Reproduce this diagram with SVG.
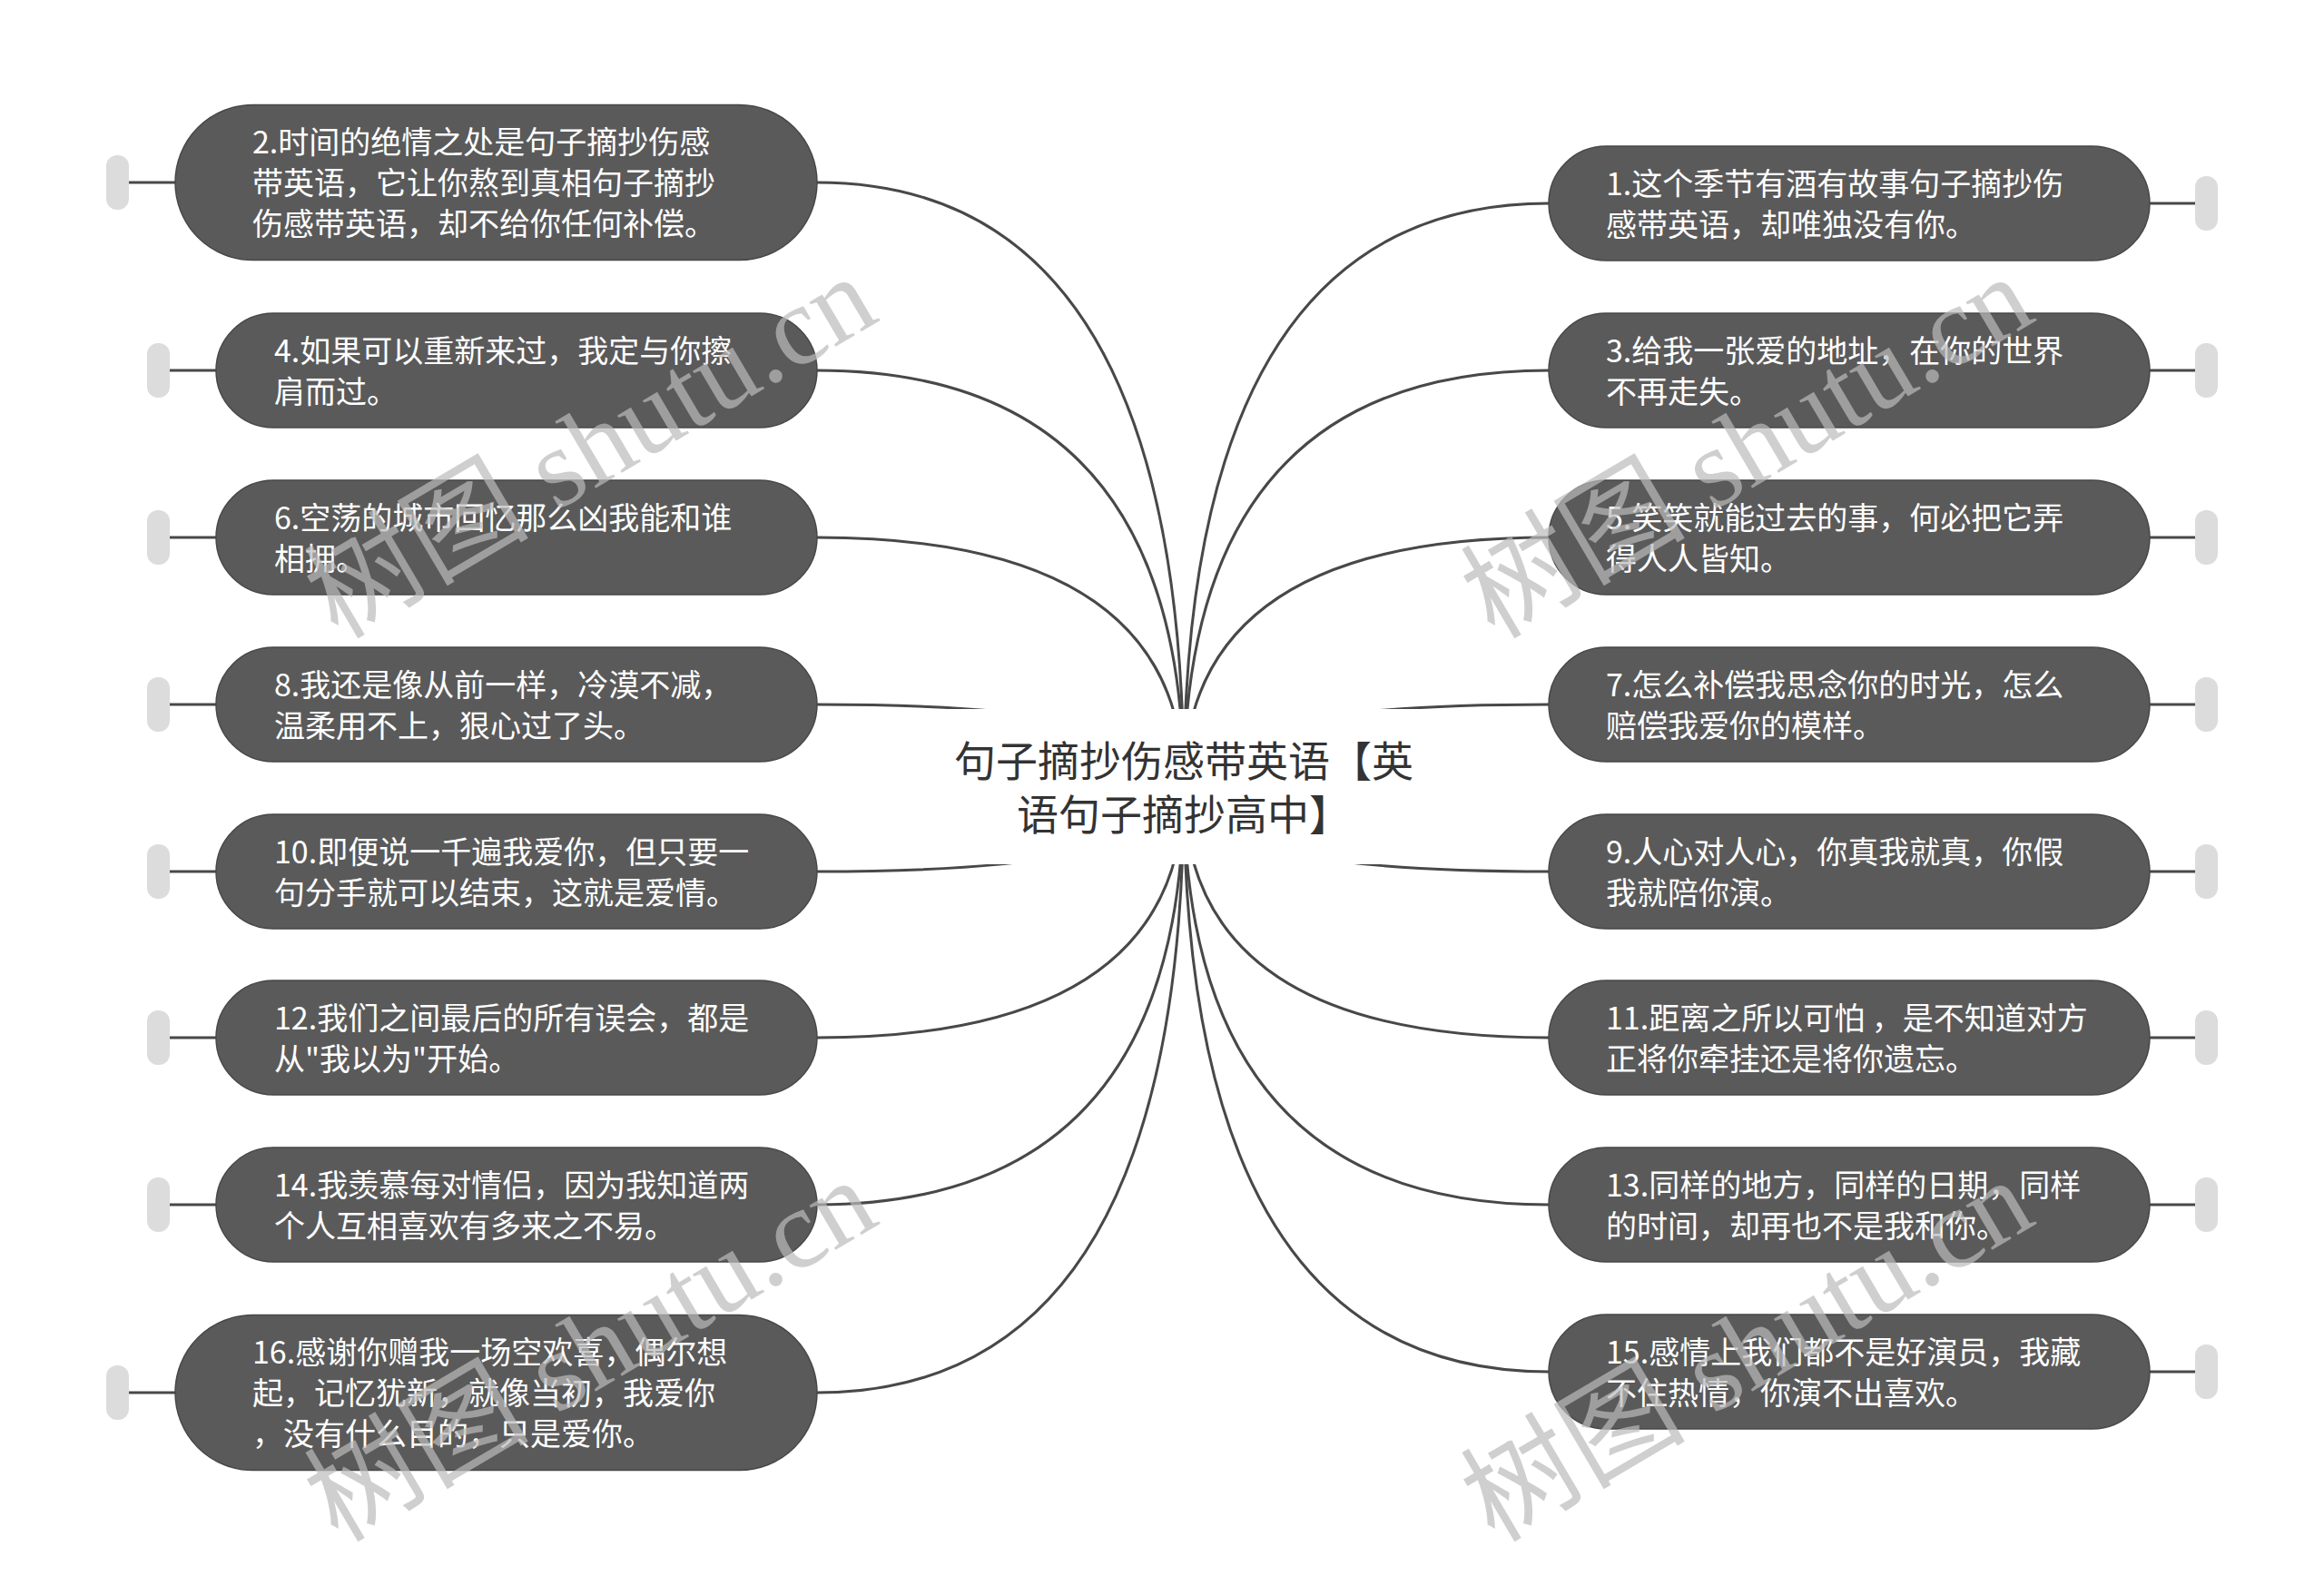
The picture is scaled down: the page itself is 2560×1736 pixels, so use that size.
<svg xmlns="http://www.w3.org/2000/svg" width="2560" height="1736" viewBox="0 0 2560 1736">
<style>
.bg{fill:#ffffff}
.node{fill:#5a5a5a;stroke:#474747;stroke-width:1.5}
.handle{fill:#dcdcdc}
.conn{fill:none;stroke:#484848;stroke-width:3}
.tx{font-family:"Noto Sans CJK SC","Noto Sans",sans-serif;font-size:34px;fill:#ffffff}
.ctx{font-family:"Noto Sans CJK SC","Noto Sans",sans-serif;font-size:46px;fill:#333333;text-anchor:middle}
.wm{font-family:"Liberation Serif","Noto Sans CJK SC",serif;font-size:124px;fill:#bbbbbb;opacity:0.7}
</style>
<rect class="bg" x="0" y="0" width="2560" height="1736"/>
<g id="connectors">
<path class="conn" d="M1304 867 Q1304 201 900 201"/>
<path class="conn" d="M1304 867 Q1304 408 900 408"/>
<path class="conn" d="M1304 867 Q1304 592 900 592"/>
<path class="conn" d="M1304 867 Q1304 776 900 776"/>
<path class="conn" d="M1304 867 Q1304 960 900 960"/>
<path class="conn" d="M1304 867 Q1304 1143 900 1143"/>
<path class="conn" d="M1304 867 Q1304 1327 900 1327"/>
<path class="conn" d="M1304 867 Q1304 1534 900 1534"/>
<path class="conn" d="M1304 867 Q1304 224 1706 224"/>
<path class="conn" d="M1304 867 Q1304 408 1706 408"/>
<path class="conn" d="M1304 867 Q1304 592 1706 592"/>
<path class="conn" d="M1304 867 Q1304 776 1706 776"/>
<path class="conn" d="M1304 867 Q1304 960 1706 960"/>
<path class="conn" d="M1304 867 Q1304 1143 1706 1143"/>
<path class="conn" d="M1304 867 Q1304 1327 1706 1327"/>
<path class="conn" d="M1304 867 Q1304 1511 1706 1511"/>
<path class="conn" d="M142 201 H193"/>
<path class="conn" d="M187 408 H238"/>
<path class="conn" d="M187 592 H238"/>
<path class="conn" d="M187 776 H238"/>
<path class="conn" d="M187 960 H238"/>
<path class="conn" d="M187 1143 H238"/>
<path class="conn" d="M187 1327 H238"/>
<path class="conn" d="M142 1534 H193"/>
<path class="conn" d="M2368 224 H2418"/>
<path class="conn" d="M2368 408 H2418"/>
<path class="conn" d="M2368 592 H2418"/>
<path class="conn" d="M2368 776 H2418"/>
<path class="conn" d="M2368 960 H2418"/>
<path class="conn" d="M2368 1143 H2418"/>
<path class="conn" d="M2368 1327 H2418"/>
<path class="conn" d="M2368 1511 H2418"/>
</g>
<g id="center">
<rect x="1000" y="781" width="608" height="171" fill="#ffffff"/>
<text class="ctx"><tspan x="1304" y="855">句子摘抄伤感带英语【英</tspan><tspan x="1304" y="914">语句子摘抄高中】</tspan></text>
</g>
<g id="n2">
<rect class="handle" x="117" y="171" width="25" height="60" rx="12"/>
<rect class="node" x="193" y="115.5" width="707" height="171" rx="85.5"/>
<text class="tx"><tspan x="278" y="169">2.时间的绝情之处是句子摘抄伤感</tspan><tspan x="278" y="214">带英语，它让你熬到真相句子摘抄</tspan><tspan x="278" y="259">伤感带英语，却不给你任何补偿。</tspan></text>
</g>
<g id="n4">
<rect class="handle" x="162" y="378" width="25" height="60" rx="12"/>
<rect class="node" x="238" y="345" width="662" height="126" rx="63"/>
<text class="tx"><tspan x="302" y="398.5">4.如果可以重新来过，我定与你擦</tspan><tspan x="302" y="443.5">肩而过。</tspan></text>
</g>
<g id="n6">
<rect class="handle" x="162" y="562" width="25" height="60" rx="12"/>
<rect class="node" x="238" y="529" width="662" height="126" rx="63"/>
<text class="tx"><tspan x="302" y="582.5">6.空荡的城市回忆那么凶我能和谁</tspan><tspan x="302" y="627.5">相拥。</tspan></text>
</g>
<g id="n8">
<rect class="handle" x="162" y="746" width="25" height="60" rx="12"/>
<rect class="node" x="238" y="713" width="662" height="126" rx="63"/>
<text class="tx"><tspan x="302" y="766.5">8.我还是像从前一样，冷漠不减，</tspan><tspan x="302" y="811.5">温柔用不上，狠心过了头。</tspan></text>
</g>
<g id="n10">
<rect class="handle" x="162" y="930" width="25" height="60" rx="12"/>
<rect class="node" x="238" y="897" width="662" height="126" rx="63"/>
<text class="tx"><tspan x="302" y="950.5">10.即便说一千遍我爱你，但只要一</tspan><tspan x="302" y="995.5">句分手就可以结束，这就是爱情。</tspan></text>
</g>
<g id="n12">
<rect class="handle" x="162" y="1113" width="25" height="60" rx="12"/>
<rect class="node" x="238" y="1080" width="662" height="126" rx="63"/>
<text class="tx"><tspan x="302" y="1133.5">12.我们之间最后的所有误会，都是</tspan><tspan x="302" y="1178.5">从"我以为"开始。</tspan></text>
</g>
<g id="n14">
<rect class="handle" x="162" y="1297" width="25" height="60" rx="12"/>
<rect class="node" x="238" y="1264" width="662" height="126" rx="63"/>
<text class="tx"><tspan x="302" y="1317.5">14.我羡慕每对情侣，因为我知道两</tspan><tspan x="302" y="1362.5">个人互相喜欢有多来之不易。</tspan></text>
</g>
<g id="n16">
<rect class="handle" x="117" y="1504" width="25" height="60" rx="12"/>
<rect class="node" x="193" y="1448.5" width="707" height="171" rx="85.5"/>
<text class="tx"><tspan x="278" y="1502">16.感谢你赠我一场空欢喜，偶尔想</tspan><tspan x="278" y="1547">起，记忆犹新，就像当初，我爱你</tspan><tspan x="278" y="1592">，没有什么目的，只是爱你。</tspan></text>
</g>
<g id="n1">
<rect class="node" x="1706" y="161" width="662" height="126" rx="63"/>
<rect class="handle" x="2418" y="194" width="25" height="60" rx="12"/>
<text class="tx"><tspan x="1769" y="214.5">1.这个季节有酒有故事句子摘抄伤</tspan><tspan x="1769" y="259.5">感带英语，却唯独没有你。</tspan></text>
</g>
<g id="n3">
<rect class="node" x="1706" y="345" width="662" height="126" rx="63"/>
<rect class="handle" x="2418" y="378" width="25" height="60" rx="12"/>
<text class="tx"><tspan x="1769" y="398.5">3.给我一张爱的地址，在你的世界</tspan><tspan x="1769" y="443.5">不再走失。</tspan></text>
</g>
<g id="n5">
<rect class="node" x="1706" y="529" width="662" height="126" rx="63"/>
<rect class="handle" x="2418" y="562" width="25" height="60" rx="12"/>
<text class="tx"><tspan x="1769" y="582.5">5.笑笑就能过去的事，何必把它弄</tspan><tspan x="1769" y="627.5">得人人皆知。</tspan></text>
</g>
<g id="n7">
<rect class="node" x="1706" y="713" width="662" height="126" rx="63"/>
<rect class="handle" x="2418" y="746" width="25" height="60" rx="12"/>
<text class="tx"><tspan x="1769" y="766.5">7.怎么补偿我思念你的时光，怎么</tspan><tspan x="1769" y="811.5">赔偿我爱你的模样。</tspan></text>
</g>
<g id="n9">
<rect class="node" x="1706" y="897" width="662" height="126" rx="63"/>
<rect class="handle" x="2418" y="930" width="25" height="60" rx="12"/>
<text class="tx"><tspan x="1769" y="950.5">9.人心对人心，你真我就真，你假</tspan><tspan x="1769" y="995.5">我就陪你演。</tspan></text>
</g>
<g id="n11">
<rect class="node" x="1706" y="1080" width="662" height="126" rx="63"/>
<rect class="handle" x="2418" y="1113" width="25" height="60" rx="12"/>
<text class="tx"><tspan x="1769" y="1133.5">11.距离之所以可怕 ，是不知道对方</tspan><tspan x="1769" y="1178.5">正将你牵挂还是将你遗忘。</tspan></text>
</g>
<g id="n13">
<rect class="node" x="1706" y="1264" width="662" height="126" rx="63"/>
<rect class="handle" x="2418" y="1297" width="25" height="60" rx="12"/>
<text class="tx"><tspan x="1769" y="1317.5">13.同样的地方，同样的日期，同样</tspan><tspan x="1769" y="1362.5">的时间，却再也不是我和你。</tspan></text>
</g>
<g id="n15">
<rect class="node" x="1706" y="1448" width="662" height="126" rx="63"/>
<rect class="handle" x="2418" y="1481" width="25" height="60" rx="12"/>
<text class="tx"><tspan x="1769" y="1501.5">15.感情上我们都不是好演员，我藏</tspan><tspan x="1769" y="1546.5">不住热情，你演不出喜欢。</tspan></text>
</g>
<g id="watermark">
<text class="wm" transform="translate(372 705) rotate(-30.5)">树图 shutu.cn</text>
<text class="wm" transform="translate(1646 705) rotate(-30.5)">树图 shutu.cn</text>
<text class="wm" transform="translate(372 1700) rotate(-30.5)">树图 shutu.cn</text>
<text class="wm" transform="translate(1646 1700) rotate(-30.5)">树图 shutu.cn</text>
</g>
</svg>
